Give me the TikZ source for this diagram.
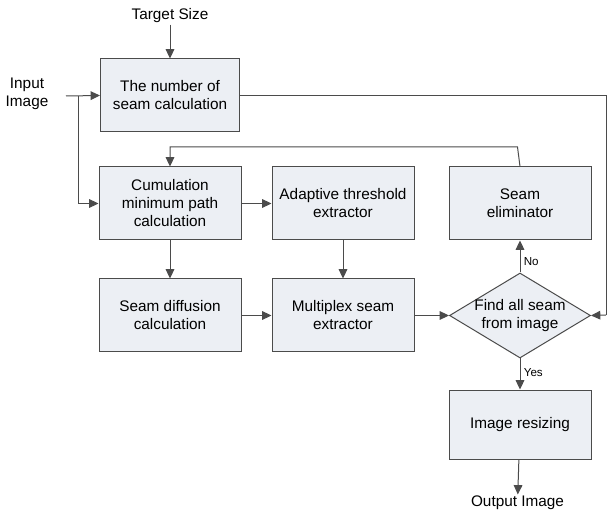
\documentclass[tikz,border=0pt]{standalone}
\usepackage{fontspec}
\setmainfont{Liberation Sans}
\usetikzlibrary{positioning,shapes.geometric,arrows.meta}
\definecolor{boxfill}{RGB}{236,239,244}
\definecolor{edge}{RGB}{75,75,75}

\begin{document}
\begin{tikzpicture}[x=0.75pt,y=-0.75pt,
  block/.style={draw=edge, fill=boxfill, line width=0.75pt, minimum width=106.5pt,
    minimum height=54.75pt, align=center, inner sep=2pt, font=\fontsize{11.5}{13.5}\selectfont},
  decision/.style={diamond, draw=edge, fill=boxfill, line width=0.75pt, minimum width=105.75pt,
    minimum height=63.75pt, inner sep=0pt},
  plain/.style={align=center, inner sep=1pt, font=\fontsize{11.5}{13.5}\selectfont},
  tag/.style={font=\fontsize{8.7}{10}\selectfont, inner sep=2.5pt},
  arrow/.style={draw=edge, line width=0.75pt, -{Triangle[length=7pt,width=6.5pt]}},
  wire/.style={draw=edge, line width=0.75pt}]

\useasboundingbox (0,0) rectangle (607,513);

% --- inputs ---
\node[plain] (target) at (170,16) {Target Size};
\node[plain] (input) at (27,94) {Input\\Image};
\coordinate (inStart) at (66,96);
\coordinate (split) at (78,96);

% --- blocks ---
\node[block, minimum width=104.25pt] (num) at (170,95.5) {The number of\\seam calculation};
\node[block] (cum) at (170,203.5) {Cumulation\\minimum path\\calculation};
\node[block, right=22.5pt of cum] (adapt) {Adaptive threshold\\extractor};
\node[block, right=25.5pt of adapt] (elim) {Seam\\eliminator};
\node[block, below=28.5pt of cum] (diff) {Seam diffusion\\calculation};
\node[block, below=28.5pt of adapt] (multi) {Multiplex seam\\extractor};
\node[decision, label={[plain]center:Find all seam\\from image}] (find) at (elim |- multi) {};
\node[block, minimum height=51.75pt, below=23.25pt of find] (resize) {Image resizing};
\node[plain] (output) at (517.5,503) {Output Image};

% --- helper points for the loops ---
\coordinate (loop) at (517.5,147);
\coordinate (rline) at (606,315);

% --- connectors ---
\draw[arrow] (target) -- (num);
\draw[arrow] (inStart) -- (num.west);
\draw[arrow] (split) |- (cum.west);
\draw[wire] (num.east) -| (rline);
\draw[arrow] (rline) -- (find.east);
\draw[arrow] (elim.north) -- (loop) -| (cum.north);
\draw[arrow] (cum) -- (adapt);
\draw[arrow] (cum) -- (diff);
\draw[arrow] (adapt) -- (multi);
\draw[arrow] (diff) -- (multi);
\draw[arrow] (multi) -- (find);
\draw[arrow] (find.north) -- node[tag, right, pos=0.35] {No} (elim.south);
\draw[arrow] (find.south) -- node[tag, right, pos=0.45] {Yes} (resize.north);
\draw[arrow] (resize) -- (output);

\end{tikzpicture}
\end{document}
